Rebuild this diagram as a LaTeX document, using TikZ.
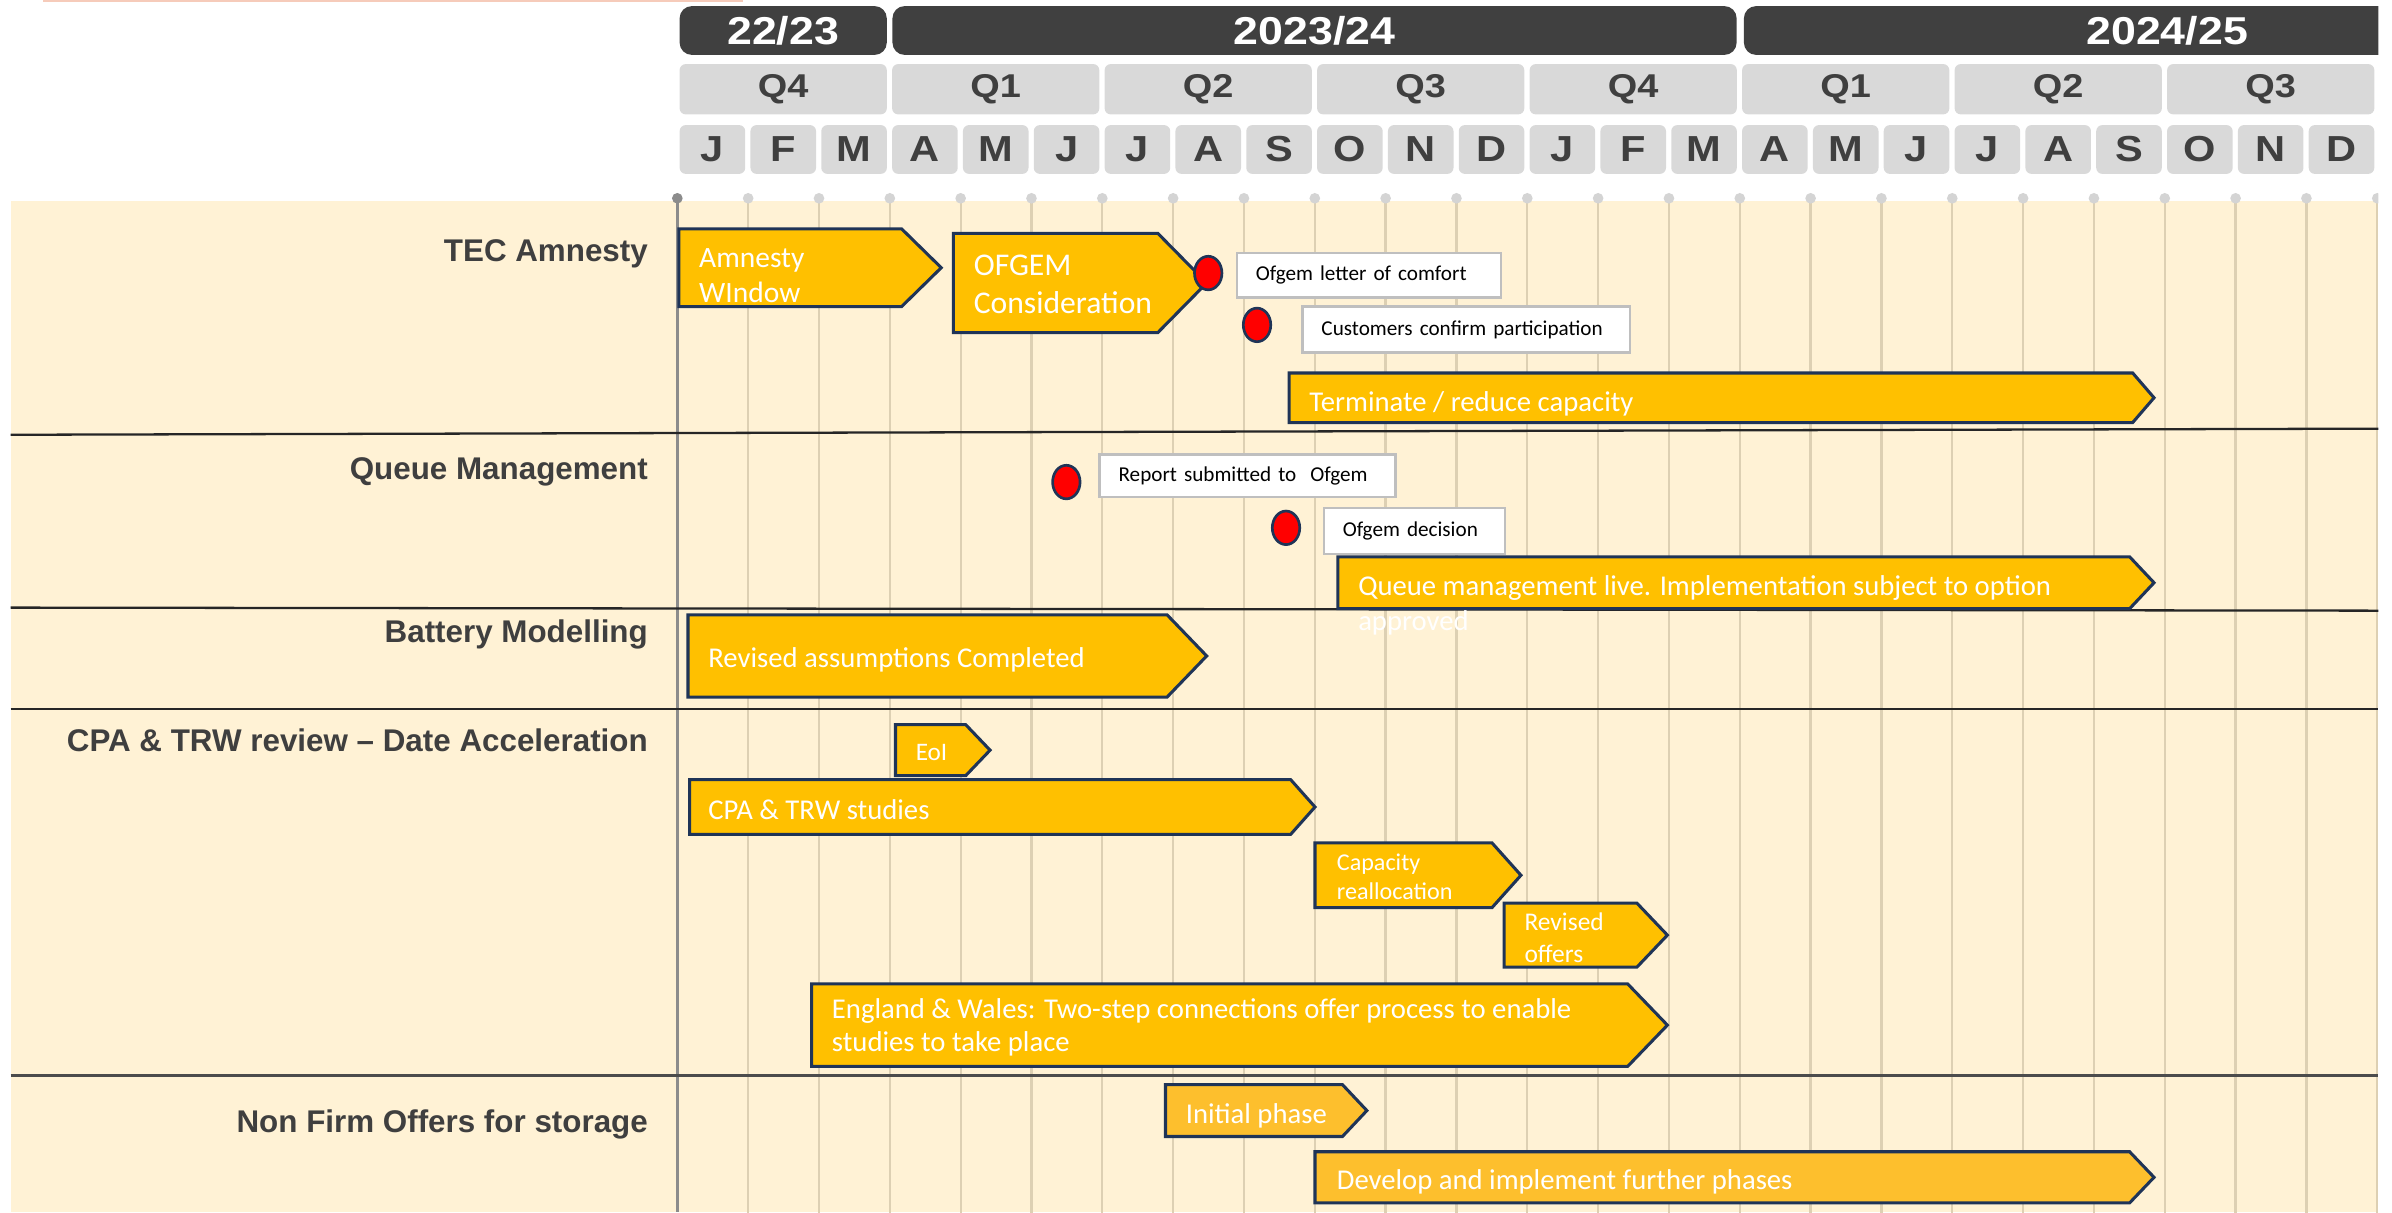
\documentclass[tikz,border=0pt]{standalone}
\usepackage{fontspec}
\setmainfont{Carlito}
\newfontfamily\labfont{Liberation Sans}
\newfontfamily\hdfont[FakeStretch=1.15]{Liberation Sans}
\usetikzlibrary{shapes.geometric}

\definecolor{hdrdark}{HTML}{404040}
\definecolor{hdrlight}{HTML}{D9D9D9}
\definecolor{labgray}{HTML}{3F3F3F}
\definecolor{cream}{HTML}{FFF2D5}
\definecolor{gridtan}{HTML}{DDD0B3}
\definecolor{gold}{HTML}{FFC000}
\definecolor{goldlight}{HTML}{FDBF2D}
\definecolor{navy}{HTML}{1F3457}
\definecolor{pinkline}{HTML}{F6CBBA}

\tikzset{
  yearbox/.style={fill=hdrdark, text=white, rounded corners=0.16cm, minimum height=0.64cm, inner sep=0,
    font=\hdfont\bfseries\fontsize{14.5}{16}\selectfont},
  qbox/.style={fill=hdrlight, text=labgray, rounded corners=0.08cm, minimum width=2.717cm, minimum height=0.66cm, inner sep=0,
    font=\hdfont\bfseries\fontsize{12.3}{14}\selectfont},
  monbox/.style={fill=hdrlight, text=labgray, rounded corners=0.08cm, minimum width=0.86cm, minimum height=0.64cm, inner sep=0,
    font=\hdfont\bfseries\fontsize{13.5}{15}\selectfont},
  rowlabel/.style={anchor=base east, text=labgray, inner sep=0, font=\labfont\bfseries\fontsize{11.7}{14}\selectfont},
  barline/.style={draw=navy, line width=0.04cm, line join=miter},
  bartext/.style={anchor=west, text=white, align=left, inner sep=0, font=\fontsize{10.7}{13}\selectfont},
  ms/.style={ellipse, draw=navy, line width=0.035cm, fill=red, minimum width=0.36cm, minimum height=0.44cm, inner sep=0},
  msbox/.style={anchor=west, draw=black!25, line width=0.03cm, fill=white, align=left, inner xsep=0.25cm, inner ysep=0,
    font=\fontsize{7.9}{9.5}\selectfont}
}

% chevron bar: [fill]{name}{x left}{y top}{x body end}{x tip}{y bottom}
\newcommand{\gbar}[7][gold]{%
  \draw[barline, fill=#1] (#3,#4) -- (#5,#4) -- (#6,{(#4+#7)/2}) -- (#5,#7) -- (#3,#7) -- cycle;
  \coordinate (#2) at (#3,{(#4+#7)/2});
}

\begin{document}
\begin{tikzpicture}[x=0.02cm,y=-0.02cm]
\useasboundingbox (0,0) rectangle (1568,794.5);
\clip (0,-5) rectangle (1559,794.5);

\draw[pinkline, line width=0.04cm] (28,0.5) -- (487,0.5);

% header
\node[yearbox, minimum width=2.717cm] (yr1) at (513.4,20) {22/23};
\node[yearbox, minimum width=11.07cm] (yr2) at (861.7,20) {2023/24};
\node[yearbox, minimum width=11.1cm] (yr3) at (1420.6,20) {2024/25};
\foreach \q [count=\j from 0] in {Q4,Q1,Q2,Q3,Q4,Q1,Q2,Q3}
  \node[qbox] (qtr\j) at ({513.4+139.3*\j},58.5) {\q};
\foreach \m [count=\i from 0] in {J,F,M,A,M,J,J,A,S,O,N,D,J,F,M,A,M,J,J,A,S,O,N,D}
  \node[monbox] (mon\i) at ({467+46.43*\i},98) {\m};

% body and month grid
\fill[cream] (7,132) rectangle (1559,794.5);
\foreach \k in {0,...,24} {
  \ifnum\k=0
    \draw[black!45, line width=0.035cm] (444,130) -- (444,794.5);
    \fill[black!45] (444,130) circle (0.07cm);
  \else
    \draw[gridtan, line width=0.03cm] ({444+46.43*\k},130) -- ++(0,665);
    \fill[black!17] ({444+46.43*\k},130) circle (0.07cm);
  \fi}

\draw[black!85, line width=0.03cm] (7,285) -- (1559,281);
\draw[black!85, line width=0.03cm] (7,398.3) -- (1559,400.3);
\draw[black!85, line width=0.03cm] (7,464.8) -- (1559,464.8);
\draw[black!70, line width=0.045cm] (7,705) -- (1559,705);

% row labels
\node[rowlabel] (rTEC) at (425,171.5) {TEC Amnesty};
\node[rowlabel] (rQueue) at (425,314.5) {Queue Management};
\node[rowlabel] (rBatt) at (425,421.5) {Battery Modelling};
\node[rowlabel] (rCPA) at (425,492.5) {CPA \& TRW review – Date Acceleration};
\node[rowlabel] (rNFO) at (425,742.5) {Non Firm Offers for storage};

% TEC Amnesty
\gbar{amn}{445}{150}{591}{617}{201}
\node[bartext, font=\fontsize{11}{13.1}\selectfont] (amnT) at (458,180.5) {Amnesty\\WIndow};
\gbar{ofg}{625}{153}{759}{791}{218}
\node[bartext, font=\fontsize{11.8}{14.2}\selectfont] (ofgT) at (638,186.5) {OFGEM\\Consideration};
\node[msbox, text width=2.96cm, minimum height=0.58cm] (lbComfort) at (810,180.5) {Ofgem letter of comfort};
\node[msbox, text width=3.8cm, minimum height=0.6cm] (lbConfirm) at (853,216) {Customers confirm participation};
\node[ms] (msComfort) at (792,179) {};
\node[ms] (msConfirm) at (824,213) {};
\gbar{term}{845}{244.5}{1398}{1412}{277}
\node[bartext] (termT) at (858,264.5) {Terminate / reduce capacity};

% Queue Management
\node[msbox, text width=3.38cm, minimum height=0.56cm] (lbReport) at (720,312) {Report submitted to\ \ Ofgem};
\node[msbox, text width=1.88cm, minimum height=0.6cm] (lbDecision) at (867,348) {Ofgem decision};
\node[ms] (msReport) at (699,316) {};
\node[ms] (msDecision) at (843,346) {};
\gbar{queue}{877}{365}{1396}{1412}{399}
\node[bartext, font=\fontsize{10.7}{13.1}\selectfont] (queueT) at (890,397) {Queue management live. Implementation subject to option\\approved};

% Battery Modelling
\gbar{batt}{451}{403}{765}{791}{457}
\node[bartext] (battT) at (464,432.5) {Revised assumptions Completed};

% CPA & TRW review
\gbar{eoi}{587}{475}{633}{649}{508.5}
\node[bartext, font=\fontsize{9.4}{11}\selectfont] (eoiT) at (600,493) {EoI};
\gbar{cpa}{452}{511}{846}{862}{547}
\node[bartext] (cpaT) at (464,531) {CPA \& TRW studies};
\gbar{cap}{862}{552.5}{978}{997}{595}
\node[bartext, font=\fontsize{9}{10.8}\selectfont] (capT) at (876,574.5) {Capacity\\reallocation};
\gbar{rev}{986}{592}{1073}{1093}{634}
\node[bartext, font=\fontsize{9.5}{12}\selectfont] (revT) at (999,614.5) {Revised\\offers};
\gbar{eng}{532}{645}{1067}{1093}{699}
\node[bartext, font=\fontsize{10.7}{12.5}\selectfont] (engT) at (545,673.5) {England \& Wales: Two-step connections offer process to enable\\studies to take place};

% Non Firm Offers
\gbar[goldlight]{init}{764}{711}{880}{896}{745}
\node[bartext] (initT) at (777,731.5) {Initial phase};
\gbar[goldlight]{dev}{862}{755}{1396}{1412}{788.5}
\node[bartext] (devT) at (876,774.5) {Develop and implement further phases};
\end{tikzpicture}
\end{document}
